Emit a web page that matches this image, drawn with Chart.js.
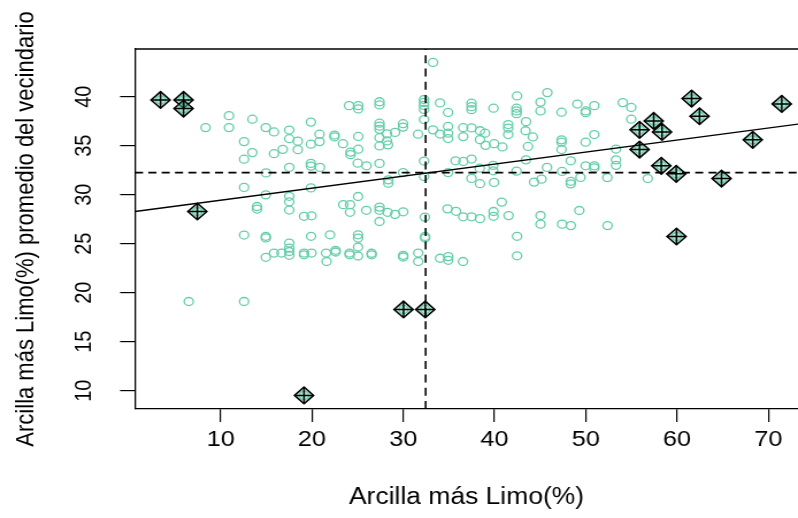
<!DOCTYPE html>
<html>
<head>
<meta charset="utf-8">
<script src="https://cdn.jsdelivr.net/npm/chart.js@4/dist/chart.umd.min.js"></script>
<style>
  html, body { margin: 0; padding: 0; background: #fff; overflow: hidden; }
  /* el lienzo se estira en horizontal como la imagen original */
  #grafico { display: block; width: 798px !important; height: 518px !important; }
</style>
</head>
<body>
<canvas id="grafico" width="694" height="518" style="width:798px;height:518px"></canvas>
<script>
// Arcilla más Limo(%) de cada punto
var puntosX = [
  8.34, 10.91, 10.91, 13.47, 12.56, 13.47, 12.56, 14.94, 15.84, 15.84, 16.80, 17.51, 17.51, 18.45, 18.45,
  17.51, 14.97, 19.88, 19.88, 20.83, 20.83, 19.88, 19.88, 20.88, 12.56, 19.88, 22.47, 22.47, 23.40, 24.22,
  24.22, 25.07, 25.07, 25.01, 25.98, 24.06, 25.07, 25.07, 27.40, 27.40, 27.40, 27.40, 27.40, 27.40, 27.40,
  27.40, 28.22, 28.22, 28.33, 29.10, 29.98, 29.98, 31.62, 32.28, 32.28, 32.28, 32.28, 32.28, 32.28, 32.28,
  33.26, 33.26, 34.03, 34.03, 34.91, 34.91, 34.91, 34.91, 34.91, 35.73, 36.57, 36.57, 37.48, 37.48, 37.48,
  37.48, 38.41, 38.96, 38.41, 39.02, 39.95, 40.86, 39.89, 41.50, 41.50, 41.50, 42.47, 42.41, 42.41, 42.41,
  43.40, 43.45, 36.58, 37.48, 39.86, 39.86, 38.38, 42.41, 29.98, 28.36, 28.36, 37.48, 38.41, 39.95, 43.45,
  44.33, 45.15, 45.79, 45.04, 45.04, 47.34, 49.07, 49.99, 49.99, 50.93, 54.05, 54.98, 54.98, 44.20, 43.67,
  47.34, 47.34, 47.34, 49.98, 50.93, 53.31, 53.31, 53.31, 48.35, 45.75, 47.40, 49.98, 50.93, 50.93, 49.42,
  48.35, 48.35, 52.36, 56.79, 40.79, 14.94, 17.51, 17.51, 17.51, 13.98, 13.98, 19.13, 19.95, 12.56, 14.94,
  14.94, 17.51, 17.51, 17.51, 17.51, 19.90, 21.98, 15.84, 16.66, 19.13, 19.13, 19.95, 14.94, 21.54, 21.60,
  6.50, 12.56, 25.05, 23.43, 24.17, 24.17, 25.96, 27.40, 27.40, 27.40, 28.28, 29.10, 30.00, 32.37, 34.85,
  35.78, 36.57, 37.48, 38.41, 39.89, 39.89, 41.54, 25.05, 25.05, 25.05, 22.58, 22.58, 24.12, 24.12, 25.05,
  26.53, 26.53, 30.00, 30.00, 31.64, 31.64, 32.39, 32.39, 34.03, 34.93, 34.93, 36.55, 42.47, 42.47, 45.04,
  45.04, 47.40, 48.36, 49.29, 52.38
];
// promedio del vecindario de cada punto
var puntosY = [
  36.84, 38.06, 36.84, 37.70, 35.41, 34.29, 33.62, 36.84, 36.40, 34.18, 34.62, 36.59, 35.71, 35.46, 34.59,
  32.78, 32.22, 37.40, 35.15, 36.17, 35.41, 33.19, 32.91, 32.78, 30.74, 30.69, 36.08, 35.89, 35.20, 34.34,
  34.08, 35.94, 34.64, 33.21, 32.94, 39.08, 39.08, 38.75, 39.48, 39.15, 37.29, 36.99, 36.66, 35.81, 34.97,
  33.19, 36.20, 35.48, 35.08, 36.35, 37.24, 36.89, 36.17, 39.71, 39.41, 39.10, 38.70, 37.66, 33.43, 31.85,
  43.49, 36.61, 39.36, 36.18, 38.39, 36.96, 36.27, 35.72, 32.25, 33.45, 36.83, 35.92, 39.33, 38.98, 38.67,
  36.81, 36.52, 36.27, 35.61, 35.03, 35.20, 34.87, 38.82, 37.15, 36.79, 36.13, 40.07, 38.82, 38.54, 38.26,
  36.52, 37.45, 33.39, 33.63, 32.99, 32.43, 32.70, 32.40, 32.25, 31.51, 31.17, 31.66, 31.12, 31.25, 33.55,
  31.28, 31.58, 40.41, 39.44, 38.54, 38.41, 39.24, 38.54, 38.36, 39.08, 39.39, 38.90, 37.70, 35.89, 34.92,
  35.59, 35.35, 34.60, 35.35, 36.13, 34.65, 33.55, 32.99, 33.45, 32.78, 32.37, 32.94, 32.94, 32.73, 31.76,
  31.36, 31.10, 31.74, 31.64, 29.24, 29.98, 29.83, 29.27, 28.43, 28.79, 28.53, 27.79, 27.84, 25.88, 25.75,
  25.58, 25.06, 24.55, 24.20, 23.81, 25.75, 25.90, 24.04, 24.04, 24.04, 23.86, 24.04, 23.61, 24.04, 23.18,
  19.10, 19.10, 29.81, 28.98, 28.98, 28.20, 28.40, 28.73, 28.40, 27.26, 28.20, 27.99, 28.25, 27.71, 28.55,
  28.30, 27.74, 27.74, 27.55, 28.28, 27.79, 27.86, 25.90, 25.57, 24.66, 24.32, 24.15, 24.04, 23.86, 23.74,
  24.02, 23.86, 23.81, 23.64, 24.04, 23.18, 25.73, 25.57, 23.51, 23.68, 23.30, 23.18, 25.75, 23.76, 27.87,
  26.99, 26.99, 26.84, 28.38, 26.84
];

// puntos influyentes (rombo con cruz)
var influyentesX = [3.41, 5.93, 5.93, 7.44, 19.13, 30.03, 32.41, 61.59, 71.47, 62.46, 55.89, 57.44, 58.35, 55.89, 68.29, 58.27, 59.91, 64.87, 59.94];
var influyentesY = [39.66, 39.66, 38.78, 28.28, 9.52, 18.29, 18.29, 39.80, 39.26, 38.00, 36.61, 37.52, 36.40, 34.60, 35.59, 32.94, 32.12, 31.64, 25.73];

// medias y recta de regresión
var mediaX = 32.45;
var mediaY = 32.25;
var rectaX = [0.61, 73.25];
var rectaY = [28.28, 37.19];

// ejes
var rangoX = [0.61, 73.25];
var rangoY = [8.13, 44.86];
var xTicks = [10, 20, 30, 40, 50, 60, 70];
var yTicks = [10, 15, 20, 25, 30, 35, 40];

var fuente = '"Liberation Sans", Arial, sans-serif';
var verde = '#66CDAA';

function pares(xs, ys) {
    return xs.map(function(x, i) { return { x: x, y: ys[i] }; });
}

// marco superior y etiquetas giradas del eje y
var marcoPlugin = {
    id: 'marco',
    afterDraw: function(chart) {
        var ctx = chart.ctx;
        var area = chart.chartArea;
        var escalaY = chart.scales.y;
        ctx.save();
        ctx.strokeStyle = '#000';
        ctx.lineWidth = 1.3;
        ctx.beginPath();
        ctx.moveTo(area.left, area.top);
        ctx.lineTo(area.right + 2, area.top);
        ctx.stroke();

        ctx.fillStyle = '#000';
        ctx.font = '20px ' + fuente;
        ctx.textAlign = 'center';
        ctx.textBaseline = 'middle';
        yTicks.forEach(function(v) {
            var py = escalaY.getPixelForValue(v);
            ctx.save();
            ctx.translate(73.2, py);
            ctx.rotate(-Math.PI / 2);
            ctx.fillText(String(v), 0, 0);
            ctx.restore();
        });
        ctx.restore();
    }
};

var ctx = document.getElementById('grafico').getContext('2d');
var grafico = new Chart(ctx, {
    type: 'scatter',
    data: {
        datasets: [
            {
                // recta de regresión
                data: pares(rectaX, rectaY),
                showLine: true,
                borderColor: '#000',
                borderWidth: 1.3,
                pointRadius: 0
            },
            {
                // media de x
                data: pares([mediaX, mediaX], rangoY),
                showLine: true,
                borderColor: '#000',
                borderWidth: 1.6,
                borderDash: [8, 5.3],
                pointRadius: 0
            },
            {
                // media de y
                data: pares(rangoX, [mediaY, mediaY]),
                showLine: true,
                borderColor: '#000',
                borderWidth: 1.6,
                borderDash: [7, 4.6],
                pointRadius: 0
            },
            {
                data: pares(influyentesX, influyentesY),
                pointStyle: 'cross',
                pointRadius: 8.3,
                borderColor: '#000',
                borderWidth: 1.5
            },
            {
                data: pares(influyentesX, influyentesY),
                pointStyle: 'rectRot',
                pointRadius: 8.3,
                backgroundColor: 'rgba(102, 205, 170, 0.45)',
                borderColor: '#000',
                borderWidth: 1.5
            },
            {
                data: pares(influyentesX, influyentesY),
                pointStyle: 'circle',
                pointRadius: 4,
                backgroundColor: 'rgba(0,0,0,0)',
                borderColor: verde,
                borderWidth: 1.3
            },
            {
                data: pares(puntosX, puntosY),
                pointStyle: 'circle',
                pointRadius: 4,
                backgroundColor: 'rgba(0,0,0,0)',
                borderColor: verde,
                borderWidth: 1.3
            }
        ]
    },
    options: {
        responsive: false,
        animation: false,
        events: [],
        layout: { autoPadding: false, padding: { top: 49, left: 0, right: 0, bottom: 0 } },
        plugins: {
            legend: { display: false },
            tooltip: { enabled: false }
        },
        scales: {
            x: {
                type: 'linear',
                min: rangoX[0],
                max: rangoX[1],
                afterBuildTicks: function(scale) {
                    scale.ticks = xTicks.map(function(v) { return { value: v }; });
                },
                afterFit: function(scale) {
                    scale.height = 109;
                    scale.paddingLeft = 0;
                    scale.paddingRight = 0;
                },
                ticks: {
                    color: '#000',
                    font: { family: fuente, size: 22 },
                    padding: 5,
                    maxRotation: 0,
                    autoSkip: false
                },
                grid: {
                    drawOnChartArea: false,
                    drawTicks: true,
                    tickLength: 13,
                    color: '#000',
                    lineWidth: 1.2
                },
                border: { display: true, color: '#000', width: 1.3 },
                title: {
                    display: true,
                    text: 'Arcilla más Limo(%)',
                    color: '#000',
                    font: { family: fuente, size: 23 },
                    padding: { top: 0, bottom: 7 }
                }
            },
            y: {
                type: 'linear',
                min: rangoY[0],
                max: rangoY[1],
                afterBuildTicks: function(scale) {
                    scale.ticks = yTicks.map(function(v) { return { value: v }; });
                },
                afterFit: function(scale) { scale.width = 117.4; },
                ticks: { display: false },
                grid: {
                    drawOnChartArea: false,
                    drawTicks: true,
                    tickLength: 13,
                    color: '#000',
                    lineWidth: 1.2
                },
                border: { display: true, color: '#000', width: 1.3 },
                title: {
                    display: true,
                    text: 'Arcilla más Limo(%) promedio del vecindario',
                    color: '#000',
                    font: { family: fuente, size: 22 },
                    padding: { top: 10, bottom: 0 }
                }
            }
        }
    },
    plugins: [marcoPlugin]
});
</script>
</body>
</html>
